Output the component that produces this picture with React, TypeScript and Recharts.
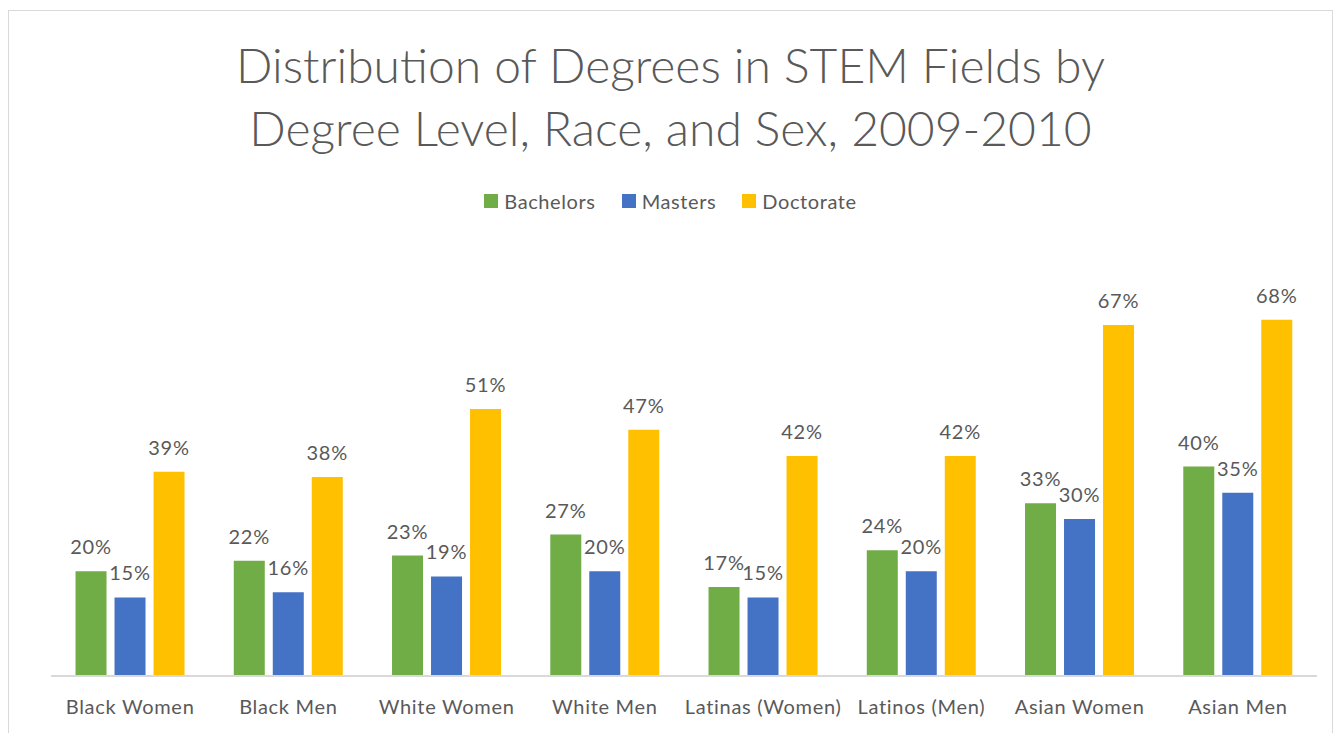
import {Bar, BarChart, LabelList, XAxis, YAxis} from 'recharts';

const categories = [
  'Black Women',
  'Black Men',
  'White Women',
  'White Men',
  'Latinas (Women)',
  'Latinos (Men)',
  'Asian Women',
  'Asian Men',
];
const bachelors = [20, 22, 23, 27, 17, 24, 33, 40];
const masters = [15, 16, 19, 20, 15, 20, 30, 35];
const doctorate = [39, 38, 51, 47, 42, 42, 67, 68];

const series = [
  {key: 'bachelors', name: 'Bachelors', color: '#70AD47'},
  {key: 'masters', name: 'Masters', color: '#4472C4'},
  {key: 'doctorate', name: 'Doctorate', color: '#FFC000'},
];

const data = categories.map((name, i) => ({
  name,
  bachelors: bachelors[i],
  masters: masters[i],
  doctorate: doctorate[i],
}));

const font = 'Lato, "Open Sans", sans-serif';
const textColor = '#595959';

export default function App() {
  return (
    <div
      style={{
        position: 'fixed',
        left: 8,
        top: 10,
        width: 1323,
        height: 760,
        border: '1px solid #d9d9d9',
        background: '#fff',
        fontFamily: font,
      }}
    >
      <div
        style={{
          position: 'absolute',
          top: 22,
          left: 0,
          width: '100%',
          textAlign: 'center',
          fontSize: 48,
          fontWeight: 300,
          lineHeight: '63px',
          color: textColor,
        }}
      >
        Distribution of Degrees in STEM Fields by
        <br />
        Degree Level, Race, and Sex, 2009-2010
      </div>
      <div
        style={{
          position: 'absolute',
          top: 178,
          left: 0,
          width: '100%',
          display: 'flex',
          justifyContent: 'center',
          gap: 26,
          fontSize: 20,
          letterSpacing: 0.6,
          color: textColor,
        }}
      >
        {series.map((s) => (
          <div key={s.key} style={{display: 'flex', alignItems: 'center', gap: 6}}>
            <span style={{width: 14, height: 14, background: s.color, display: 'inline-block'}} />
            <span>{s.name}</span>
          </div>
        ))}
      </div>
      <BarChart
        width={1323}
        height={720}
        data={data}
        margin={{top: 246, right: 15, left: 42, bottom: 0}}
        barCategoryGap="15.5%"
        barGap={8}
      >
        <XAxis
          dataKey="name"
          height={55}
          tickLine={false}
          axisLine={{stroke: '#d9d9d9', strokeWidth: 2}}
          tick={{fill: textColor, fontSize: 20, fontFamily: font, letterSpacing: 0.7}}
          tickMargin={18}
          interval={0}
        />
        <YAxis hide domain={[0, 80]} />
        {series.map((s) => (
          <Bar key={s.key} dataKey={s.key} name={s.name} fill={s.color} isAnimationActive={false}>
            <LabelList
              dataKey={s.key}
              position="top"
              offset={17}
              formatter={(v: number) => `${v}%`}
              style={{fill: textColor, fontSize: 20, fontFamily: font, letterSpacing: 0.8}}
            />
          </Bar>
        ))}
      </BarChart>
    </div>
  );
}
